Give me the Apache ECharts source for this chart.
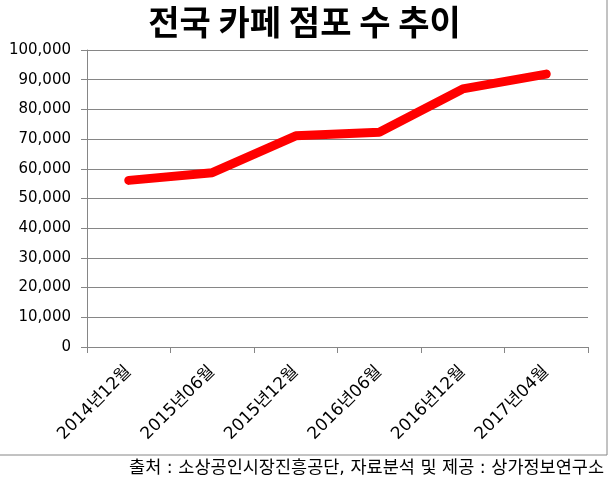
<!DOCTYPE html>
<html>
<head>
<meta charset="utf-8">
<script src="https://cdn.jsdelivr.net/npm/echarts@6/dist/echarts.min.js"></script>
<style>
  html, body { margin: 0; padding: 0; background: #fff; }
  #chart { width: 609px; height: 487px; }
</style>
</head>
<body>
<div id="chart"></div>
<script>
// 전국 카페 점포 수 추이
const categories = ['2014년12월', '2015년06월', '2015년12월', '2016년06월', '2016년12월', '2017년04월'];
const storeCounts = [56100, 58700, 71100, 72300, 86900, 91900];
const yTicks = { min: 0, max: 100000, interval: 10000 };

const FONT = '"DejaVu Sans", "Noto Sans CJK KR", sans-serif';

let option = {
    backgroundColor: '#fff',
    animation: false,
    title: {
        text: '전국 카페 점포 수 추이',
        left: 'center',
        top: 0,
        textStyle: {
            fontFamily: '"Noto Sans CJK KR", sans-serif',
            fontSize: 34,
            fontWeight: 'bold',
            color: '#000'
        }
    },
    grid: { left: 87, right: 21, top: 50, bottom: 140 },
    xAxis: {
        type: 'category',
        data: categories,
        boundaryGap: true,
        axisLine: { lineStyle: { color: '#868686', width: 1 } },
        axisTick: { show: true, length: 6, lineStyle: { color: '#868686' } },
        axisLabel: {
            rotate: 45,
            margin: 22,
            fontSize: 17,
            color: '#000',
            fontFamily: FONT
        }
    },
    yAxis: {
        type: 'value',
        min: yTicks.min,
        max: yTicks.max,
        interval: yTicks.interval,
        axisLine: { show: true, lineStyle: { color: '#868686', width: 1 } },
        axisTick: { show: true, length: 6, lineStyle: { color: '#868686' } },
        splitLine: { show: true, lineStyle: { color: '#868686', width: 1 } },
        axisLabel: {
            margin: 16,
            fontSize: 15,
            color: '#000',
            fontFamily: FONT,
            formatter: v => v.toLocaleString('en-US')
        }
    },
    series: [{
        type: 'line',
        data: storeCounts,
        symbol: 'none',
        lineStyle: { color: '#ff0000', width: 9, cap: 'round', join: 'round' }
    }],
    graphic: [
        {
            type: 'rect',
            shape: { x: -2, y: -2, width: 609, height: 457 },
            style: { fill: 'none', stroke: '#868686', lineWidth: 1 },
            silent: true
        },
        {
            type: 'text',
            right: 5,
            top: 460,
            style: {
                text: '출처 : 소상공인시장진흥공단, 자료분석 및 제공 : 상가정보연구소',
                font: '17.5px "DejaVu Sans", "Noto Sans CJK KR", sans-serif',
                fill: '#000'
            }
        }
    ]
};

echarts.init(document.getElementById('chart')).setOption(option);
</script>
</body>
</html>
